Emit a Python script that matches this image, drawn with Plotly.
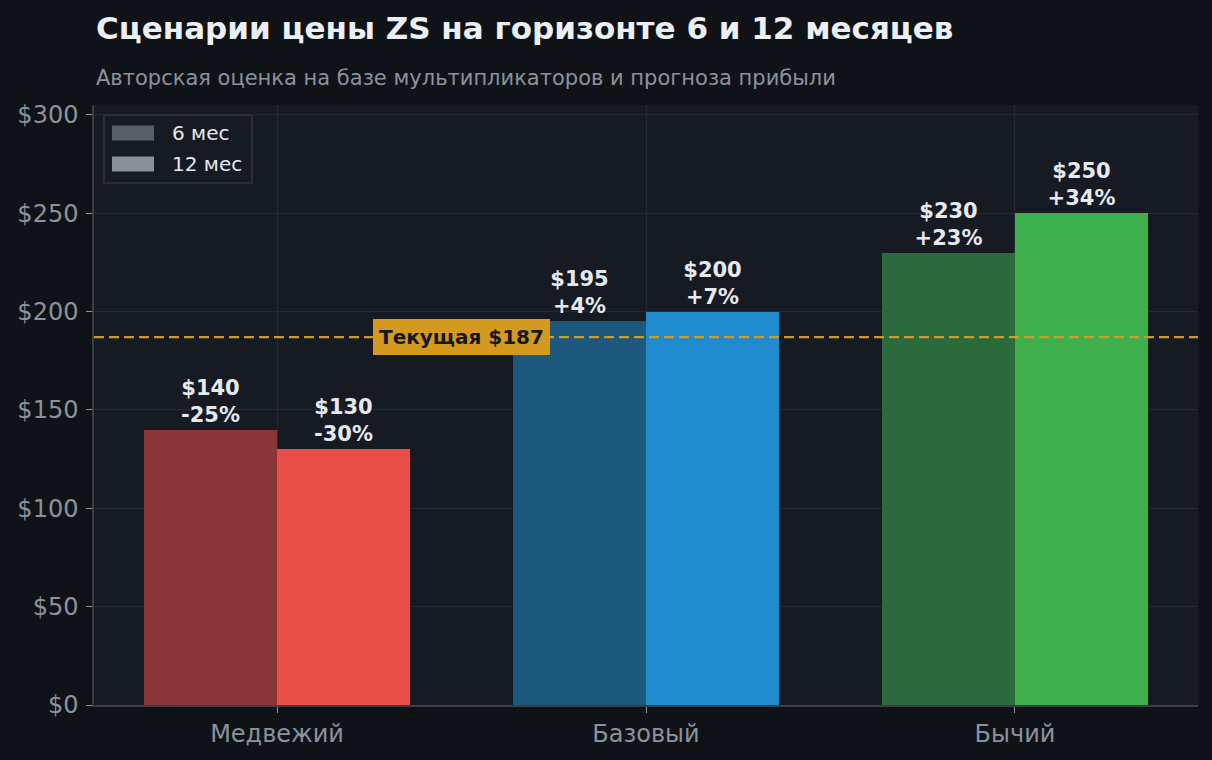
import plotly.graph_objects as go

categories = ["Медвежий", "Базовый", "Бычий"]
price_6m = [140, 195, 230]
price_12m = [130, 200, 250]
change_6m = ["-25%", "+4%", "+23%"]
change_12m = ["-30%", "+7%", "+34%"]
current_price = 187
colors_6m = ["#8a3639", "#1b587c", "#2a6a3c"]
colors_12m = ["#ea4f47", "#1f8bcc", "#3daf4d"]
y_ticks = [0, 50, 100, 150, 200, 250, 300]
series_names = ["6 мес", "12 мес"]
legend_colors = ["#5a5e68", "#8a9099"]

FONT = "DejaVu Sans"
fig = go.Figure()

PLOT_L, PLOT_R = 94, 1198
PLOT_TOP, PLOT_BOT, H = 105, 705, 760
def py(px):
    return (PLOT_BOT - px) / (PLOT_BOT - PLOT_TOP)
def pxp(px):
    return (px - PLOT_L) / (PLOT_R - PLOT_L)

bar_w = 0.36
for vals, chg, cols, off in [(price_6m, change_6m, colors_6m, -bar_w),
                              (price_12m, change_12m, colors_12m, 0.0)]:
    fig.add_trace(go.Bar(
        x=categories, y=vals, width=bar_w, offset=off,
        marker=dict(color=cols, line=dict(width=0)),
        text=[f"<b>${v}<br>{c}</b>" for v, c in zip(vals, chg)],
        textposition="outside",
        textfont=dict(family=FONT, size=21, color="#e6e9ee"),
        cliponaxis=False, showlegend=False, hoverinfo="skip",
    ))

# legend (drawn as a box with colour patches and labels)
fig.add_shape(type="rect", xref="paper", yref="paper",
              x0=pxp(104), x1=pxp(252), y0=py(183), y1=py(115),
              line=dict(color="#30343c", width=1.5), fillcolor="#161a22", layer="above")
for i, (name, col) in enumerate(zip(series_names, legend_colors)):
    cy = 133 + 31 * i
    fig.add_shape(type="rect", xref="paper", yref="paper",
                  x0=pxp(112), x1=pxp(154), y0=py(cy + 7.5), y1=py(cy - 7.5),
                  line=dict(width=0), fillcolor=col, layer="above")
    fig.add_annotation(text=name, xref="paper", yref="paper", x=pxp(170), y=py(cy),
                       xanchor="left", yanchor="middle", showarrow=False,
                       font=dict(family=FONT, size=20, color="#e6e9ee"))

fig.add_shape(type="line", xref="paper", x0=0, x1=1, yref="y",
              y0=current_price, y1=current_price,
              line=dict(color="#d09a2a", width=2.2, dash="10px,5px"), layer="above")

fig.add_annotation(x=0.5, y=current_price, xref="x", yref="y",
                   text=f"<b>Текущая ${current_price}</b>", showarrow=False,
                   font=dict(family=FONT, size=20, color="#15181d"),
                   bgcolor="#d4991f", bordercolor="#d4991f", borderpad=5,
                   xanchor="center", yanchor="middle")

fig.add_annotation(text="<b>Сценарии цены ZS на горизонте 6 и 12 месяцев</b>",
                   xref="paper", x=0, xanchor="left", yref="paper", y=py(28),
                   yanchor="middle", showarrow=False,
                   font=dict(family=FONT, size=31, color="#eceff3"))
fig.add_annotation(text="Авторская оценка на базе мультипликаторов и прогноза прибыли",
                   xref="paper", x=0, xanchor="left", yref="paper", y=py(78),
                   yanchor="middle", showarrow=False,
                   font=dict(family=FONT, size=21, color="#8b929c"))

fig.update_layout(
    width=1212, height=760,
    margin=dict(l=94, r=14, t=105, b=55),
    paper_bgcolor="#0f1317", plot_bgcolor="#161a22",
    barmode="overlay", bargap=0,
    font=dict(family=FONT),
    showlegend=False,
    xaxis=dict(range=[-0.496, 2.496], showgrid=True, gridcolor="#252932",
               showline=True, linecolor="#3a3e46", linewidth=1.5,
               ticks="outside", ticklen=6, tickcolor="#8b929c",
               tickfont=dict(family=FONT, size=24, color="#8b929c"),
               zeroline=False),
    yaxis=dict(range=[0, 305], tickvals=y_ticks,
               ticktext=[f"${v}" for v in y_ticks],
               showgrid=True, gridcolor="#252932",
               showline=True, linecolor="#3a3e46", linewidth=1.5,
               ticks="outside", ticklen=6, tickcolor="#8b929c",
               ticklabelstandoff=3,
               tickfont=dict(family=FONT, size=24, color="#8b929c"),
               zeroline=False),
)

fig.write_html("out.html", config={"displayModeBar": False},
               post_script="document.body.style.margin='0';document.body.style.padding='0';document.body.style.overflow='hidden';")
